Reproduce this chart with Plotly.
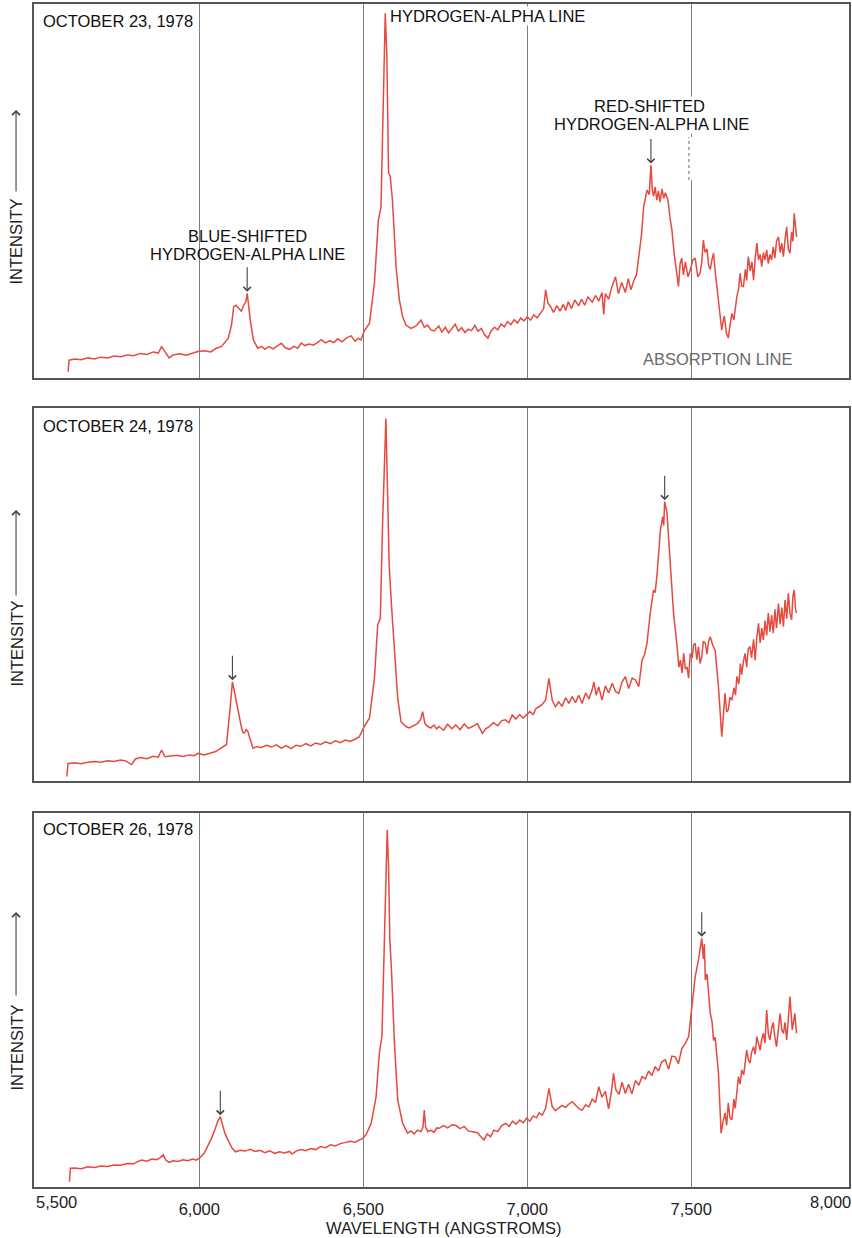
import plotly.graph_objects as go

# ---------------- DATA (wavelength in angstroms, relative intensity 0-100 per panel) ----------------
wl_oct23 = [5600, 5603, 5620, 5640, 5660, 5680, 5700, 5720, 5740, 5760, 5780, 5800, 5820, 5840, 5860, 5875,
            5885, 5895, 5908, 5920, 5940, 5960, 5980, 5996, 6015, 6035, 6050, 6067, 6078, 6088, 6098, 6105,
            6112, 6120, 6128, 6136, 6142, 6146, 6150, 6156, 6165, 6178, 6190, 6200, 6212, 6225, 6238, 6250,
            6262, 6275, 6288, 6300, 6311, 6322, 6335, 6348, 6360, 6372, 6385, 6398, 6410, 6422, 6435, 6448,
            6463, 6475, 6485, 6493, 6503, 6519, 6534, 6546, 6554, 6562, 6567, 6572, 6577, 6582, 6589, 6600,
            6610, 6620, 6630, 6645, 6660, 6676, 6686, 6696, 6706, 6716, 6730, 6740, 6750, 6760, 6770, 6780,
            6790, 6800, 6810, 6820, 6830, 6840, 6850, 6860, 6870, 6880, 6890, 6900, 6910, 6920, 6930, 6940,
            6950, 6960, 6970, 6980, 6990, 7000, 7010, 7020, 7030, 7040, 7050, 7056, 7063, 7071, 7080, 7090,
            7100, 7110, 7117, 7125, 7135, 7145, 7157, 7165, 7175, 7185, 7198, 7208, 7218, 7228, 7233, 7238,
            7248, 7258, 7269, 7278, 7288, 7299, 7308, 7316, 7325, 7333, 7340, 7348, 7355, 7365, 7372, 7377,
            7381, 7385, 7390, 7395, 7400, 7405, 7411, 7416, 7421, 7429, 7435, 7441, 7449, 7455, 7461, 7466,
            7471, 7476, 7482, 7490, 7497, 7505, 7512, 7520, 7527, 7532, 7537, 7542, 7548, 7553, 7558, 7563,
            7568, 7573, 7578, 7585, 7593, 7597, 7601, 7607, 7613, 7618, 7624, 7630, 7639, 7644, 7649, 7654,
            7659, 7665, 7669, 7674, 7680, 7685, 7690, 7695, 7700, 7705, 7710, 7715, 7720, 7725, 7730, 7735,
            7740, 7745, 7750, 7755, 7760, 7766, 7771, 7776, 7781, 7786, 7791, 7796, 7801, 7806, 7810, 7814,
            7818, 7821]
int_oct23 = [1.6, 4.7, 5.0, 4.8, 5.3, 5.0, 5.5, 5.3, 5.8, 5.6, 6.1, 5.9, 6.5, 6.2, 6.9, 6.6,
             8.3, 6.9, 5.3, 6.1, 6.4, 6.0, 6.6, 7.0, 7.2, 6.9, 7.8, 8.3, 9.4, 10.5, 14.0, 19.0,
             19.4, 18.5, 17.8, 19.5, 20.3, 22.6, 19.5, 15.0, 10.1, 7.9, 8.4, 7.6, 8.3, 7.7, 8.5, 9.2,
             8.0, 7.6, 8.4, 7.9, 9.3, 8.6, 9.0, 8.7, 9.4, 10.2, 9.3, 9.9, 9.4, 10.4, 9.6, 10.6,
             11.2, 9.8, 10.5, 10.1, 12.5, 14.6, 25.3, 42.2, 45.7, 74.3, 97.5, 85.8, 54.8, 54.0, 47.5, 29.6,
             20.8, 16.3, 14.1, 13.2, 13.8, 15.4, 13.5, 14.1, 12.8, 12.5, 13.8, 12.2, 13.5, 12.0, 13.2, 14.3,
             12.5, 13.4, 12.1, 13.0, 12.6, 14.0, 12.4, 13.2, 11.5, 10.6, 12.5, 13.5, 12.8, 14.4, 13.6, 15.0,
             14.2, 15.5, 14.6, 16.0, 15.2, 16.3, 15.4, 16.8, 16.0, 17.2, 18.5, 23.5, 20.0, 19.0, 17.5, 19.3,
             17.8, 19.6, 18.0, 20.3, 18.5, 20.8, 19.2, 21.0, 19.4, 21.6, 20.2, 22.0, 20.5, 22.8, 16.9, 22.5,
             21.0, 24.3, 27.0, 22.5, 25.5, 22.8, 26.5, 23.5, 26.1, 27.5, 32.4, 38.0, 45.8, 50.2, 49.0, 56.9,
             50.5, 48.5, 51.0, 47.5, 50.0, 47.0, 50.5, 48.0, 49.5, 47.5, 43.0, 39.5, 32.4, 28.0, 24.4, 30.5,
             32.0, 27.5, 31.0, 27.0, 28.8, 31.5, 32.0, 27.0, 28.0, 31.0, 36.8, 33.5, 34.5, 30.0, 29.0, 31.5,
             33.3, 28.5, 24.4, 18.0, 12.7, 15.0, 16.5, 12.0, 10.6, 14.0, 17.2, 15.5, 21.7, 23.5, 27.9, 24.5,
             24.4, 29.0, 26.0, 32.4, 28.5, 31.0, 26.1, 32.0, 36.0, 31.5, 33.0, 29.7, 33.5, 31.5, 34.2, 30.5,
             33.0, 31.5, 35.0, 32.0, 36.5, 37.7, 33.5, 36.0, 32.4, 37.0, 40.4, 34.5, 33.3, 39.0, 36.5, 44.0,
             40.0, 37.7]

wl_oct24 = [5596, 5600, 5620, 5640, 5660, 5680, 5700, 5720, 5740, 5760, 5775, 5794, 5805, 5820, 5840, 5860,
            5875, 5885, 5895, 5910, 5930, 5950, 5970, 5985, 5996, 6015, 6030, 6050, 6067, 6083, 6093, 6101,
            6107, 6113, 6120, 6128, 6133, 6138, 6143, 6148, 6155, 6164, 6175, 6190, 6205, 6220, 6235, 6250,
            6265, 6280, 6295, 6310, 6325, 6340, 6355, 6370, 6385, 6400, 6415, 6430, 6445, 6460, 6475, 6488,
            6503, 6519, 6534, 6544, 6552, 6559, 6569, 6574, 6579, 6586, 6595, 6605, 6615, 6630, 6640, 6650,
            6665, 6675, 6681, 6688, 6697, 6706, 6715, 6724, 6731, 6745, 6757, 6770, 6782, 6795, 6808, 6820,
            6833, 6848, 6863, 6873, 6884, 6897, 6910, 6922, 6934, 6944, 6954, 6965, 6977, 6987, 6997, 7008,
            7018, 7027, 7036, 7046, 7056, 7066, 7076, 7086, 7096, 7106, 7117, 7127, 7137, 7147, 7157, 7167,
            7178, 7188, 7198, 7203, 7210, 7218, 7228, 7238, 7248, 7259, 7269, 7279, 7289, 7299, 7309, 7320,
            7330, 7340, 7350, 7358, 7365, 7375, 7385, 7390, 7396, 7406, 7413, 7416, 7419, 7426, 7436, 7446,
            7457, 7462, 7467, 7472, 7477, 7482, 7487, 7492, 7497, 7503, 7507, 7512, 7517, 7522, 7527, 7532,
            7537, 7543, 7548, 7553, 7558, 7565, 7573, 7583, 7593, 7598, 7603, 7608, 7613, 7618, 7624, 7630,
            7635, 7639, 7645, 7650, 7654, 7659, 7664, 7669, 7674, 7679, 7684, 7690, 7695, 7700, 7705, 7710,
            7715, 7720, 7725, 7730, 7735, 7740, 7745, 7750, 7755, 7760, 7766, 7771, 7776, 7781, 7786, 7791,
            7796, 7801, 7806, 7810, 7814, 7818, 7821]
int_oct24 = [1.2, 4.7, 4.9, 4.6, 5.0, 5.2, 5.0, 5.4, 5.2, 5.6, 5.4, 4.4, 5.9, 6.3, 6.0, 6.6,
             6.4, 8.3, 6.5, 6.6, 6.9, 6.6, 7.0, 6.8, 7.4, 7.0, 7.4, 7.9, 8.9, 9.8, 18.6, 26.6,
             24.0, 21.2, 17.5, 14.6, 13.0, 12.9, 13.8, 13.3, 11.2, 8.8, 9.2, 9.0, 9.6, 9.1, 9.7, 8.8,
             9.5, 8.7, 9.6, 9.3, 10.0, 9.4, 10.2, 9.8, 10.5, 10.0, 10.8, 10.3, 11.0, 10.6, 11.2, 11.9,
             14.6, 16.9, 27.5, 41.8, 43.7, 69.5, 97.2, 78.5, 57.9, 47.2, 34.7, 22.2, 15.9, 14.6, 14.2, 14.6,
             15.4, 16.5, 18.6, 15.4, 14.6, 14.2, 15.0, 14.0, 14.6, 13.6, 15.2, 14.0, 15.0, 13.8, 15.3, 14.1,
             14.6, 15.4, 12.8, 14.0, 14.6, 15.6, 14.8, 16.2, 16.4, 15.6, 17.7, 16.6, 17.8, 16.9, 17.7, 18.6,
             17.8, 19.5, 19.9, 20.6, 21.7, 27.5, 21.7, 19.9, 21.2, 20.0, 22.3, 20.8, 22.6, 21.0, 23.0, 20.8,
             23.6, 22.0, 24.5, 26.6, 23.0, 25.2, 21.7, 25.5, 23.6, 26.2, 24.0, 23.5, 26.5, 28.0, 24.8, 27.6,
             27.1, 25.3, 32.4, 34.0, 36.9, 45.0, 51.2, 50.5, 55.7, 67.3, 70.9, 68.5, 74.9, 72.0, 58.4, 45.0,
             36.0, 30.5, 32.4, 29.0, 34.2, 30.0, 30.6, 27.6, 34.2, 33.0, 36.5, 36.9, 32.5, 36.0, 31.5, 33.3,
             37.5, 36.9, 34.0, 37.5, 38.7, 36.5, 35.0, 25.3, 11.9, 18.0, 23.5, 18.5, 19.1, 22.5, 21.7, 25.0,
             23.0, 28.0, 26.0, 31.5, 28.5, 32.0, 34.2, 30.5, 35.5, 36.0, 33.0, 38.0, 32.4, 38.5, 42.3, 37.0,
             41.0, 37.8, 43.0, 39.0, 45.0, 40.0, 44.5, 39.6, 46.0, 41.0, 47.6, 42.0, 46.5, 41.4, 48.5, 43.5,
             50.3, 45.0, 43.2, 49.5, 51.2, 46.0, 45.0]

wl_oct26 = [5604, 5607, 5620, 5640, 5660, 5680, 5700, 5720, 5740, 5760, 5780, 5800, 5812, 5824, 5840, 5855,
            5870, 5880, 5890, 5898, 5908, 5920, 5935, 5950, 5965, 5980, 5990, 6001, 6015, 6026, 6037, 6047,
            6056, 6064, 6071, 6078, 6086, 6093, 6100, 6110, 6125, 6140, 6155, 6170, 6185, 6200, 6215, 6230,
            6245, 6260, 6275, 6283, 6295, 6310, 6325, 6340, 6355, 6370, 6385, 6400, 6415, 6430, 6445, 6460,
            6475, 6490, 6498, 6508, 6524, 6539, 6549, 6557, 6563, 6568, 6573, 6577, 6581, 6586, 6595, 6605,
            6620, 6635, 6645, 6655, 6665, 6676, 6682, 6686, 6690, 6697, 6706, 6716, 6724, 6731, 6745, 6757,
            6770, 6782, 6795, 6808, 6820, 6833, 6848, 6858, 6868, 6878, 6888, 6898, 6910, 6922, 6934, 6945,
            6955, 6966, 6977, 6988, 6998, 7008, 7018, 7028, 7036, 7046, 7056, 7066, 7076, 7086, 7096, 7106,
            7117, 7127, 7137, 7147, 7157, 7167, 7178, 7188, 7198, 7208, 7218, 7228, 7238, 7248, 7256, 7263,
            7270, 7280, 7289, 7299, 7309, 7319, 7330, 7340, 7350, 7360, 7370, 7380, 7390, 7400, 7410, 7421,
            7431, 7441, 7451, 7461, 7471, 7482, 7492, 7502, 7512, 7522, 7527, 7532, 7537, 7540, 7543, 7548,
            7558, 7563, 7568, 7573, 7583, 7591, 7597, 7603, 7608, 7613, 7618, 7624, 7630, 7634, 7644, 7649,
            7654, 7660, 7669, 7674, 7679, 7684, 7690, 7695, 7700, 7705, 7710, 7715, 7720, 7725, 7730, 7735,
            7740, 7745, 7750, 7755, 7760, 7766, 7771, 7776, 7781, 7786, 7791, 7796, 7801, 7808, 7812, 7816,
            7821]
int_oct26 = [1.4, 5.0, 5.1, 4.9, 5.4, 5.2, 5.6, 5.5, 5.9, 5.8, 6.3, 6.2, 6.8, 7.2, 6.9, 7.5,
             7.3, 7.8, 8.6, 7.2, 6.6, 7.0, 6.8, 7.3, 7.0, 7.5, 7.2, 7.8, 9.0, 10.8, 13.0, 15.2,
             17.5, 18.8, 16.5, 14.4, 12.8, 11.5, 10.4, 9.4, 9.8, 9.6, 10.1, 9.5, 9.8, 9.2, 9.7, 9.0,
             9.4, 9.1, 9.5, 8.8, 9.6, 10.0, 9.7, 10.3, 10.0, 10.8, 10.5, 11.3, 11.0, 11.6, 11.8, 12.2,
             12.0, 12.6, 13.0, 13.9, 17.0, 24.1, 35.7, 40.5, 62.0, 82.0, 95.5, 86.0, 66.0, 58.0, 38.4, 23.3,
             17.0, 14.4, 15.0, 14.2, 15.2, 14.8, 16.0, 20.6, 16.0, 14.8, 15.2, 14.6, 15.8, 15.7, 16.4, 15.8,
             16.6, 16.5, 15.6, 16.2, 15.0, 14.8, 14.5, 13.5, 12.6, 14.2, 13.4, 15.2, 14.8, 16.4, 17.0, 16.2,
             17.6, 16.8, 17.9, 17.2, 18.4, 17.6, 19.0, 18.5, 19.8, 19.2, 21.1, 26.4, 21.5, 20.4, 21.2, 21.8,
             21.3, 22.2, 22.8, 21.8, 21.0, 20.5, 22.0, 21.4, 23.5, 22.6, 26.8, 24.0, 25.6, 20.9, 25.0, 30.4,
             26.0, 24.8, 28.0, 25.0, 27.5, 24.9, 28.5, 27.2, 29.5, 28.9, 31.0, 29.8, 32.2, 31.0, 33.5, 34.0,
             31.5, 35.0, 34.8, 33.0, 37.0, 38.4, 40.2, 48.2, 56.2, 60.7, 63.3, 66.5, 61.0, 65.0, 55.3, 57.0,
             46.4, 44.5, 39.2, 40.0, 30.4, 14.4, 17.5, 19.8, 16.5, 22.5, 18.5, 18.0, 23.5, 21.0, 29.5, 27.5,
             31.3, 30.0, 36.6, 34.0, 33.1, 36.0, 37.5, 35.5, 40.2, 38.0, 36.6, 39.5, 41.1, 38.5, 47.3, 41.0,
             39.3, 42.5, 44.0, 40.0, 37.5, 42.5, 46.4, 42.0, 41.1, 44.0, 39.3, 45.0, 50.9, 42.0, 45.0, 46.4,
             41.1]

dates = ["OCTOBER 23, 1978", "OCTOBER 24, 1978", "OCTOBER 26, 1978"]
blue_peak_wl = [6146, 6101, 6064]
blue_peak_int = [22.6, 26.6, 18.8]
red_peak_wl = [7377, 7419, 7532]
red_peak_int = [56.9, 74.9, 66.5]
grid_wl = [6000, 6500, 7000, 7500]
tick_labels = ["6,000", "6,500", "7,000", "7,500"]
edge_tick_labels = ["5,500", "8,000"]

# ---------------- LAYOUT GEOMETRY ----------------
W, H = 852, 1238
ML, MR, MT, MB = 34, 1, 4, 51
PW, PH = W - ML - MR, H - MT - MB


def PX(x):
    return (x - ML) / PW


def PY(y):
    return (H - MB - y) / PH


panel_px = [(4, 377.7), (408, 781), (813, 1187)]  # top, bottom pixel of each panel
domains = [[PY(b), PY(t)] for t, b in panel_px]
domains[0][1] = 1.0
domains[2][0] = 0.0

RED = "#e5493f"
FRAME = "#555555"
GRID = "#7d7d7d"
FONT = "Liberation Sans, Arial, Helvetica, sans-serif"
FS = 16.5

fig = go.Figure()
series = [(wl_oct23, int_oct23), (wl_oct24, int_oct24), (wl_oct26, int_oct26)]
for i, (wl, it) in enumerate(series):
    sfx = "" if i == 0 else str(i + 1)
    fig.add_trace(go.Scatter(x=wl, y=it, mode="lines", line=dict(color=RED, width=1.5),
                             xaxis="x" + sfx, yaxis="y" + sfx, showlegend=False, hoverinfo="skip"))

layout = dict(width=W, height=H, margin=dict(l=ML, r=MR, t=MT, b=MB),
              paper_bgcolor="white", plot_bgcolor="white", showlegend=False,
              font=dict(family=FONT, size=FS, color="#111"))
XR = [5496, 7981]
for i in range(3):
    sfx = "" if i == 0 else str(i + 1)
    bottom = (i == 2)
    layout["xaxis" + sfx] = dict(
        range=XR, anchor="y" + sfx, tickvals=grid_wl, ticktext=tick_labels,
        showticklabels=bottom, ticks="outside" if bottom else "", ticklen=6,
        tickcolor="rgba(0,0,0,0)", tickfont=dict(size=FS, color="#222", family=FONT),
        showgrid=True, gridcolor=GRID, gridwidth=1, zeroline=False,
        showline=True, mirror=True, linecolor=FRAME, linewidth=1.5,
        matches=None if i == 0 else "x")
    layout["yaxis" + sfx] = dict(
        domain=domains[i], range=[0, 100], anchor="x" + sfx, showticklabels=False,
        ticks="", showgrid=False, zeroline=False, showline=True, mirror=True,
        linecolor=FRAME, linewidth=1.5)
fig.update_layout(**layout)

ann = []
# date labels
date_y = [21, 426, 829]
for d, yy in zip(dates, date_y):
    ann.append(dict(text=d, xref="paper", yref="paper", x=PX(41), y=PY(yy), xanchor="left",
                    yanchor="middle", showarrow=False, font=dict(size=FS, color="#111")))

# line labels (top panel)
ann.append(dict(text="HYDROGEN-ALPHA LINE", xref="paper", yref="paper", x=PX(390), y=PY(16),
                xanchor="left", yanchor="middle", showarrow=False, bgcolor="white", borderpad=0,
                font=dict(size=FS, color="#111")))
ann.append(dict(text="BLUE-SHIFTED", xref="paper", yref="paper", x=PX(248), y=PY(236),
                xanchor="center", yanchor="middle", showarrow=False, font=dict(size=FS, color="#111")))
ann.append(dict(text="HYDROGEN-ALPHA LINE", xref="paper", yref="paper", x=PX(248), y=PY(254),
                xanchor="center", yanchor="middle", showarrow=False, font=dict(size=FS, color="#111")))
ann.append(dict(text="RED-SHIFTED", xref="paper", yref="paper", x=PX(651), y=PY(106),
                xanchor="center", yanchor="middle", showarrow=False, bgcolor="white", borderpad=0,
                font=dict(size=FS, color="#111")))
ann.append(dict(text="HYDROGEN-ALPHA LINE", xref="paper", yref="paper", x=PX(653), y=PY(124),
                xanchor="center", yanchor="middle", showarrow=False, bgcolor="white", borderpad=0,
                font=dict(size=FS, color="#111")))
ann.append(dict(text="ABSORPTION LINE", xref="paper", yref="paper", x=PX(719), y=PY(359),
                xanchor="center", yanchor="middle", showarrow=False, font=dict(size=FS, color="#6a6a6a")))

# intensity labels and arrows
int_text_y = [241.5, 643.5, 1047.5]
int_arrow = [(110, 193), (510, 597), (912, 997)]
for ty, (a_top, a_bot) in zip(int_text_y, int_arrow):
    ann.append(dict(text="INTENSITY", xref="paper", yref="paper", x=PX(16), y=PY(ty),
                    xanchor="center", yanchor="middle", textangle=-90, showarrow=False,
                    font=dict(size=FS, color="#222")))
    ann.append(dict(text="", xref="paper", yref="paper", x=PX(16), y=PY(a_top), ax=0,
                    ay=a_bot - a_top, showarrow=True, arrowhead=4, arrowsize=1.4,
                    arrowwidth=1.1, arrowcolor="#444"))

# peak arrows
for i in range(3):
    sfx = "" if i == 0 else str(i + 1)
    for wl, pk in ((blue_peak_wl[i], blue_peak_int[i]), (red_peak_wl[i], red_peak_int[i])):
        ann.append(dict(text="", xref="x" + sfx, yref="y" + sfx, x=wl, y=pk + 0.4, ax=0, ay=-26,
                        showarrow=True, arrowhead=4, arrowsize=1.3, arrowwidth=1.1,
                        arrowcolor="#444"))

# edge tick labels and x title
ann.append(dict(text=edge_tick_labels[0], xref="paper", yref="paper", x=PX(56.5), y=PY(1202),
                xanchor="center", yanchor="middle", showarrow=False, font=dict(size=FS, color="#222")))
ann.append(dict(text=edge_tick_labels[1], xref="paper", yref="paper", x=PX(832.5), y=PY(1202),
                xanchor="center", yanchor="middle", showarrow=False, font=dict(size=FS, color="#222")))
ann.append(dict(text="WAVELENGTH (ANGSTROMS)", xref="paper", yref="paper", x=PX(445), y=PY(1228),
                xanchor="center", yanchor="middle", showarrow=False, font=dict(size=FS, color="#222")))
fig.update_layout(annotations=ann)

# small dotted segment beside the 7,500 gridline in the top panel
fig.add_shape(type="line", xref="x", yref="y", x0=7500, x1=7500, y0=52.9, y1=64.4,
              line=dict(color="white", width=2))
fig.add_shape(type="line", xref="x", yref="y", x0=7493, x1=7493, y0=52.9, y1=64.4,
              line=dict(color="#666", width=1, dash="dot"))

fig.write_html("out.html", config={"displayModeBar": False},
               post_script="document.body.style.margin='0';document.body.style.padding='0';"
                           "document.body.style.overflow='hidden';")
